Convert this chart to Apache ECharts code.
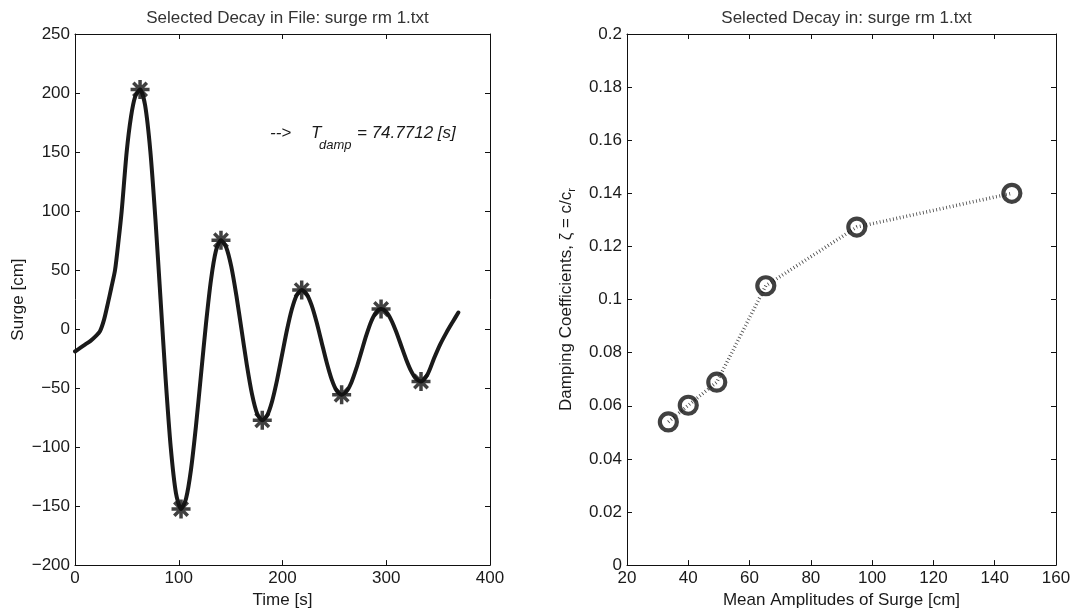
<!DOCTYPE html>
<html>
<head>
<meta charset="utf-8">
<script src="https://cdn.jsdelivr.net/npm/echarts@6/dist/echarts.min.js"></script>
<style>
html,body{margin:0;padding:0;background:#fff;}
#c{width:1074px;height:614px;}
</style>
</head>
<body>
<div id="c"></div>
<script>
// ---- Left panel data: surge time series ----
const timeS = [0,5,10,15,20,24,28,32,35,38.6,42,45,49.8,54,58,62.7,
  67.6,72.6,77.5,82.45,87.4,92.3,97.3,102.2,
  107,111.8,116.6,121.45,126.3,131.1,135.9,140.7,
  145.7,150.65,155.6,160.6,165.6,170.55,175.5,180.5,
  185.25,190,194.75,199.5,204.25,209,213.75,218.5,
  223.3,228.1,232.9,237.75,242.6,247.4,252.2,257,
  261.75,266.5,271.25,276,280.75,285.5,290.25,295,
  299.8,304.6,309.4,314.25,319.1,323.9,328.7,333.5,
  340,346,352,358,364,369.5];
const surgeCm = [-19,-16,-13,-10,-6,-2,8,23,35,50,75,100,150,180,197,203,
  189.5,150.9,93.3,25.3,-42.8,-100.4,-139,-152.5,
  -143.8,-119.1,-82.2,-38.65,4.9,41.8,66.5,75.2,
  69.4,52.9,28.1,-1.05,-30.2,-54.9,-71.5,-77.3,
  -73.1,-61.1,-43.3,-22.15,-1,16.8,28.8,33,
  29.6,20,5.7,-11.3,-28.3,-42.6,-52.2,-55.6,
  -52.8,-45,-33.2,-19.3,-5.4,6.4,14.2,17,
  14.7,8,-1.9,-13.7,-25.5,-35.4,-42.1,-44.4,
  -38,-25,-13,-3,6,14];
const peakTimes = [62.7,102.2,140.7,180.5,218.5,257,295,333.5];
const peakValues = [203,-152.5,75.2,-77.3,33,-55.6,17,-44.4];

// ---- Right panel data: damping vs mean amplitude ----
const meanAmp = [33.5,40,49.3,65.3,95,145.6];
const damping = [0.0539,0.0602,0.0689,0.1052,0.1273,0.140];

const leftTitle = 'Selected Decay in File: surge rm 1.txt';
const rightTitle = 'Selected Decay in: surge rm 1.txt';
const tdampText = '74.7712';

const FONT = 'Liberation Sans';
const TXT = '#1a1a1a';
const FS = 17;

const chart = echarts.init(document.getElementById('c'), null, {renderer:'canvas'});

function mainAxis(extra){
  return Object.assign({
    axisLine:{show:true,onZero:false,lineStyle:{color:'#111',width:1}},
    axisTick:{show:true,inside:true,length:5,lineStyle:{color:'#111'}},
    axisLabel:{color:TXT,fontSize:FS,fontFamily:FONT,margin:5},
    splitLine:{show:false},
    nameTextStyle:{color:TXT,fontSize:FS,fontFamily:FONT}
  }, extra);
}
function boxAxis(extra){
  return Object.assign({
    axisLine:{show:true,onZero:false,lineStyle:{color:'#111',width:1}},
    axisTick:{show:true,inside:true,length:5,lineStyle:{color:'#111'}},
    axisLabel:{show:false},
    splitLine:{show:false}
  }, extra);
}

const minusFmt = v => String(v).replace('-', '\u2212');

const asterisk = 'path://M0,-10L0,10M-10,0L10,0M-7.1,-7.1L7.1,7.1M-7.1,7.1L7.1,-7.1';

chart.setOption({
  animation:false,
  backgroundColor:'#fff',
  title:[
    {text:leftTitle,left:282.5,top:5,textAlign:'center',textStyle:{color:'#333',fontSize:FS,fontWeight:'normal',fontFamily:FONT}},
    {text:rightTitle,left:841.5,top:5,textAlign:'center',textStyle:{color:'#333',fontSize:FS,fontWeight:'normal',fontFamily:FONT}}
  ],
  grid:[
    {left:75,top:34,width:415,height:533},
    {left:627,top:34,width:429,height:533}
  ],
  xAxis:[
    mainAxis({type:'value',gridIndex:0,min:0,max:400,interval:100,position:'bottom',
      name:'Time [s]',nameLocation:'middle',nameGap:25}),
    boxAxis({type:'value',gridIndex:0,min:0,max:400,interval:100,position:'top'}),
    mainAxis({type:'value',gridIndex:1,min:20,max:160,interval:20,position:'bottom',
      name:'Mean Amplitudes of Surge [cm]',nameLocation:'middle',nameGap:25}),
    boxAxis({type:'value',gridIndex:1,min:20,max:160,interval:20,position:'top'})
  ],
  yAxis:[
    mainAxis({type:'value',gridIndex:0,min:-200,max:250,interval:50,position:'left',
      axisLabel:{color:TXT,fontSize:FS,fontFamily:FONT,margin:5,formatter:minusFmt},
      name:'Surge [cm]',nameLocation:'middle',nameGap:48}),
    boxAxis({type:'value',gridIndex:0,min:-200,max:250,interval:50,position:'right'}),
    mainAxis({type:'value',gridIndex:1,min:0,max:0.2,interval:0.02,position:'left',
      axisLabel:{color:TXT,fontSize:FS,fontFamily:FONT,margin:5,formatter:v=>String(+v.toFixed(2))},
      name:'{a|Damping Coefficients, \u03B6 = c/c}{s|r}',nameLocation:'middle',nameGap:50,
      nameTextStyle:{color:TXT,fontSize:FS,fontFamily:FONT,
        rich:{a:{color:TXT,fontSize:FS,fontFamily:FONT},
              s:{color:TXT,fontSize:11,fontFamily:FONT,padding:[10,0,0,0]}}}}),
    boxAxis({type:'value',gridIndex:1,min:0,max:0.2,interval:0.02,position:'right'})
  ],
  series:[
    {type:'line',xAxisIndex:0,yAxisIndex:0,data:timeS.map((t,i)=>[t,surgeCm[i]]),
      showSymbol:false,smooth:0.25,lineStyle:{color:'#1a1a1a',width:4,join:'round',cap:'round'},z:2},
    {type:'scatter',xAxisIndex:0,yAxisIndex:0,data:peakTimes.map((t,i)=>[t,peakValues[i]]),
      symbol:asterisk,symbolSize:19,
      itemStyle:{color:'rgba(0,0,0,0)',borderColor:'#111',borderWidth:3.5},z:3},
    {type:'line',xAxisIndex:2,yAxisIndex:2,data:meanAmp.map((a,i)=>[a,damping[i]]),
      showSymbol:false,lineStyle:{color:'#444',width:3.5,type:[0.8,2.6]},z:2},
    {type:'scatter',xAxisIndex:2,yAxisIndex:2,data:meanAmp.map((a,i)=>[a,damping[i]]),
      symbol:'circle',symbolSize:17,
      itemStyle:{color:'rgba(0,0,0,0)',borderColor:'#111',borderWidth:4.2},z:3}
  ],
  graphic:[
    {type:'text',left:270,top:125,style:{text:'-->',font:'italic 17px "Liberation Sans"',fill:TXT}},
    {type:'text',left:311,top:125,style:{text:'T',font:'italic 17px "Liberation Sans"',fill:TXT}},
    {type:'text',left:319,top:139,style:{text:'damp',font:'italic 13px "Liberation Sans"',fill:TXT}},
    {type:'text',left:357,top:125,style:{text:'= ' + tdampText + ' [s]',font:'italic 17px "Liberation Sans"',fill:TXT}}
  ]
});
</script>
</body>
</html>
